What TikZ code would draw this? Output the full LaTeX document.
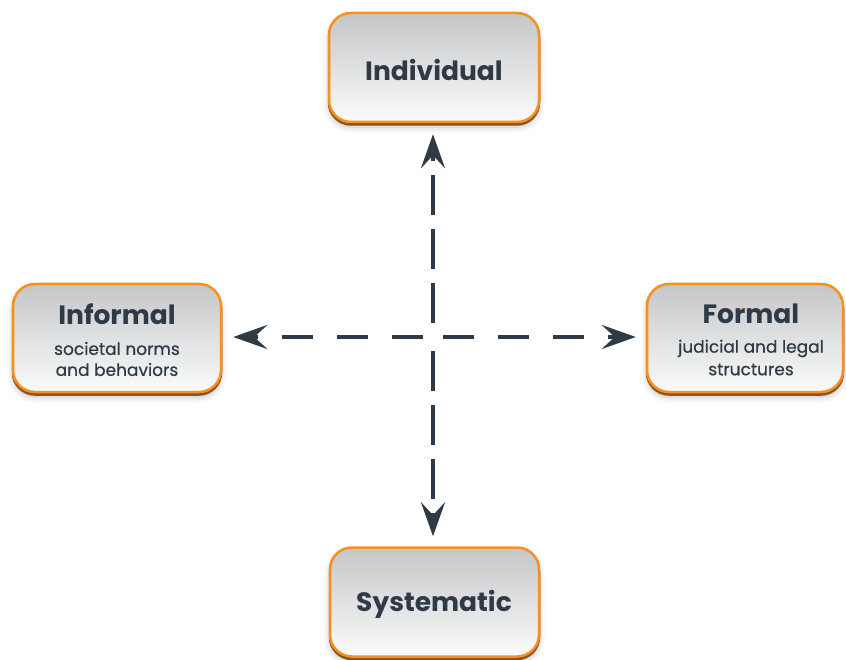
\documentclass[tikz,border=0pt]{standalone}
\usepackage{fontspec}
\setmainfont{Poppins}
\newfontfamily\subfont[FakeBold=0.5]{Poppins}
\usetikzlibrary{arrows.meta,shadows,shadows.blur}
\definecolor{txt}{HTML}{2E3A45}
\definecolor{bord}{HTML}{F7901E}
\definecolor{shad}{HTML}{8A5420}
\definecolor{boxtop}{HTML}{C5C6C8}
\definecolor{boxbot}{HTML}{FBFBFB}
\begin{document}
\begin{tikzpicture}[x=1pt,y=-1pt,
  box/.style={rectangle, rounded corners=22pt, draw=bord, line width=2.5pt,
    top color=boxtop, bottom color=boxbot,
    blur shadow={shadow xshift=0pt, shadow yshift=-5pt, shadow blur radius=6pt, shadow opacity=25},
    general shadow={draw=shad, fill=shad, line width=2.5pt, shadow yshift=-2.5pt}},
  title/.style={text=txt, font=\fontsize{26.5}{30}\selectfont\bfseries, inner sep=0pt},
  sub/.style={text=txt, font=\fontsize{17}{20}\subfont, inner sep=0pt},
  conn/.style={draw=txt, line width=4.5pt, -{Stealth[length=34pt, width=24pt, inset=13pt]}},
  hdash/.style={dash pattern=on 31pt off 24pt, dash phase=45pt},
  vdash/.style={dash pattern=on 40pt off 14pt, dash phase=40pt}]
\useasboundingbox (0,0) rectangle (846,660);
\node[box, minimum width=210pt, minimum height=109pt] (ind) at (434,67.5) {};
\node[box, minimum width=208pt, minimum height=108pt] (inf) at (117,338) {};
\node[box, minimum width=196pt, minimum height=108pt] (for) at (745,338) {};
\node[box, minimum width=209pt, minimum height=109pt] (sys) at (434.5,602) {};
\node[title] (indt) at (434,70) {Individual};
\node[title] (inft) at (117,314) {Informal};
\node[sub] (infs1) at (117,348.5) {societal norms};
\node[sub] (infs2) at (117,369.5) {and behaviors};
\node[title] (fort) at (751,314) {Formal};
\node[sub] (fors1) at (751,348.5) {judicial and legal};
\node[sub] (fors2) at (751,369.5) {structures};
\node[title] (syst) at (434,604) {Systematic};
\coordinate (c) at (433,337);
\draw[conn, vdash, shorten >=11pt] (c) -- (c |- ind.south);
\draw[conn, vdash, shorten >=10pt] (c) -- (c |- sys.north);
\draw[conn, hdash, shorten >=11pt] (c) -- (c -| inf.east);
\draw[conn, hdash, shorten >=10pt] (c) -- (c -| for.west);
\end{tikzpicture}
\end{document}
